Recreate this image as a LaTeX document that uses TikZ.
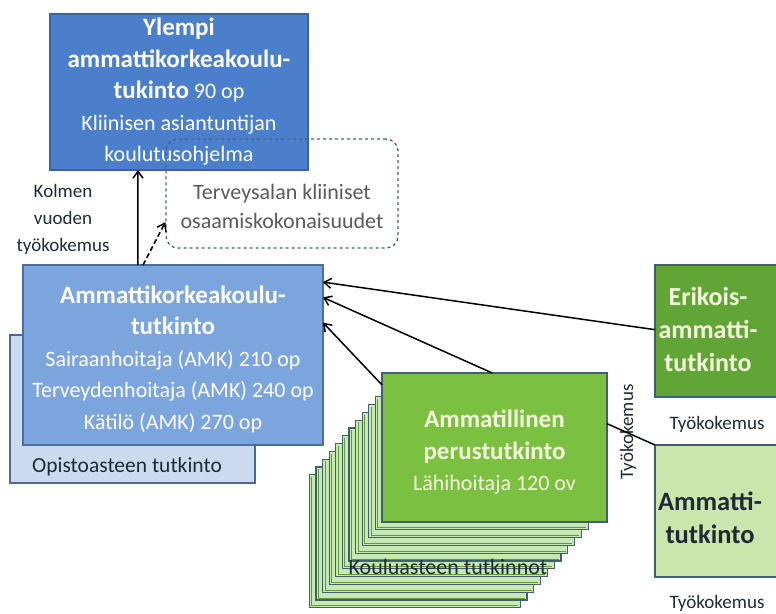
\documentclass[tikz,border=0pt]{standalone}
\usepackage{fontspec}
\setmainfont{Carlito}
\usetikzlibrary{arrows.meta,calc}
\definecolor{topblue}{HTML}{4B7FCC}
\definecolor{topborder}{HTML}{3A62A0}
\definecolor{amkblue}{HTML}{7DA5DD}
\definecolor{amkborder}{HTML}{4A6E9E}
\definecolor{opblue}{HTML}{CCDAF0}
\definecolor{opborder}{HTML}{4A6A90}
\definecolor{maingreen}{HTML}{7CC042}
\definecolor{erikgreen}{HTML}{62A537}
\definecolor{ammgreen}{HTML}{CBE6AC}
\definecolor{cardgreen}{HTML}{C6E9B2}
\definecolor{slate}{HTML}{3E6072}
\definecolor{dashcol}{HTML}{4A5E7A}
\definecolor{graytext}{HTML}{5A5A5A}
\definecolor{cream}{HTML}{F4F8DC}
\definecolor{darktext}{HTML}{1E2A36}
\tikzset{
  boxstyle/.style={draw, line width=1.3pt, inner sep=0pt, outer sep=0pt, align=center, font=\fontsize{22}{31.5}\selectfont},
  boxtext/.style={align=center, inner sep=0pt, font=\fontsize{22}{31.5}\selectfont},
  arr/.style={line width=1.5pt, -{Straight Barb[length=7pt,width=10pt,line width=1.5pt]}},
  small/.style={font=\fontsize{19}{27}\selectfont, align=center},
}
\newcommand{\bld}[1]{{\fontsize{25}{31.5}\selectfont\bfseries #1}}
\begin{document}
\begin{tikzpicture}[x=1pt,y=-1pt]
\useasboundingbox (0,0) rectangle (776,613);
\fill[white] (0,0) rectangle (776,613);
\begin{scope}
\clip (0,0) rectangle (776,613);
% Top box
\node[boxstyle, fill=topblue, draw=topborder, text=white, minimum width=258pt, minimum height=156pt] (top) at (179,92)
  {\bld{Ylempi}\\ \bld{ammattikorkeakoulu-}\\ \bld{tukinto} 90 op\\ Kliinisen asiantuntijan\\ koulutusohjelma};
% Dashed box
\node[draw=dashcol, dashed, line width=1.3pt, rounded corners=12pt, minimum width=232pt, minimum height=109pt, inner sep=0pt] (dash) at (282,193.5) {};
\node[text=graytext, align=center, font=\fontsize{22}{29}\selectfont] (dashtxt) at (282,206) {Terveysalan kliiniset\\osaamiskokonaisuudet};
% Kolmen vuoden
\node[small, text=darktext] (kolmen) at (63,219) {Kolmen\\vuoden\\työkokemus};
% Opisto box
\node[boxstyle, fill=opblue, draw=opborder, minimum width=245pt, minimum height=148pt] (opisto) at (132.5,409) {};
\node[text=darktext, font=\fontsize{21.5}{25}\selectfont] (optxt) at (127,467) {Opistoasteen tutkinto};
% AMK box
\node[boxstyle, fill=amkblue, draw=amkborder, minimum width=300pt, minimum height=180pt] (amk) at (173,355) {};
\node[boxtext, text=white] (amktxt) at (173,359)
  {\bld{Ammattikorkeakoulu-}\\ \bld{tutkinto}\\ Sairaanhoitaja (AMK) 210 op\\ Terveydenhoitaja (AMK) 240 op\\ Kätilö (AMK) 270 op};
% stack of cards
\foreach \k in {11,10,...,1}{
  \draw[fill=cardgreen, draw=slate, line width=1.2pt] ({382-6.6*\k},{389+7.8*\k}) rectangle ({595-6.8*\k},{522+7.8*\k});
  \draw[draw=maingreen!80!black, line width=0.6pt] ({382-6.6*\k+2.2},{389+7.8*\k+2.2}) -- ({382-6.6*\k+2.2},{522+7.8*\k-2.2}) -- ({595-6.8*\k-2.2},{522+7.8*\k-2.2});
}
\node[text=darktext, font=\fontsize{22}{25}\selectfont] (koulu) at (448,567) {Kouluasteen tutkinnot};
% Main green
\node[boxstyle, fill=maingreen, draw=slate, minimum width=225pt, minimum height=149pt] (main) at (494.5,447.5) {};
\node[boxtext, text=cream] (maintxt) at (494.5,452.5)
  {\bld{Ammatillinen}\\ \bld{perustutkinto}\\ Lähihoitaja 120 ov};
% Erikois box
\node[boxstyle, fill=erikgreen, draw=slate, minimum width=140pt, minimum height=132pt] (erik) at (725,331) {};
\node[text=cream, align=center, font=\fontsize{26}{33}\selectfont\bfseries] (eriktxt) at (708,329) {Erikois-\\ammatti-\\tutkinto};
% Ammatti box
\node[boxstyle, fill=ammgreen, draw=slate, minimum width=140pt, minimum height=132pt] (amm) at (725,511) {};
\node[text=darktext, align=center, font=\fontsize{26.5}{33}\selectfont\bfseries] (ammtxt) at (710,518) {Ammatti-\\tutkinto};
% Työkokemus labels
\node[text=darktext, font=\fontsize{19}{23}\selectfont] (ty1) at (717,424) {Työkokemus};
\node[text=darktext, font=\fontsize{19}{23}\selectfont] (ty2) at (717,603) {Työkokemus};
\node[text=darktext, font=\fontsize{19}{23}\selectfont, rotate=90] (ty3) at (628,432) {Työkokemus};
% connectors
\draw[arr] ($(amk.north west)!0.383!(amk.north east)$) -- ($(top.south west)!0.341!(top.south east)$);
\draw[arr, dashed, line width=1.6pt, dash pattern=on 5pt off 3pt] ($(amk.north west)!0.40!(amk.north east)$) -- ($(dash.north west)!0.76!(dash.south west)$);
\draw[arr] ($(erik.north west)!0.49!(erik.south west)$) -- ($(amk.north east)!0.095!(amk.south east)$);
\draw[arr] ($(main.north west)!0.49!(main.north east)$) -- ($(amk.north east)!0.18!(amk.south east)$);
\draw[arr] ($(main.north west)!0.08!(main.south west)$) -- ($(amk.north east)!0.32!(amk.south east)$);
\draw[line width=1.5pt] ($(main.north east)!0.34!(main.south east)$) -- (amm.north west);
\end{scope}
\end{tikzpicture}
\end{document}
